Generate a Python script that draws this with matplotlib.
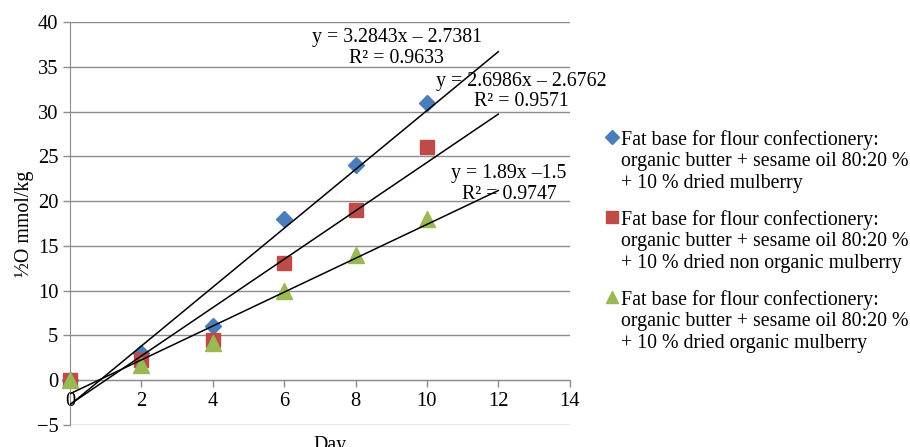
import numpy as np
import matplotlib
matplotlib.use('Agg')
import matplotlib.pyplot as plt
from matplotlib.lines import Line2D

plt.rcParams['font.family'] = ['Liberation Serif', 'DejaVu Serif']

# data
days = [0, 2, 4, 6, 8, 10]
mulberry = [0, 3, 6.1, 18, 24, 31]
non_organic = [0, 2.3, 4.5, 13.1, 19, 26]
organic = [0, 1.7, 4.2, 10, 14, 18]

# trendline equations as printed
slopes = [3.2843, 2.6986, 1.89]
intercepts = [-2.7381, -2.6762, -1.5]
eq_texts = ['y = 3.2843x – 2.7381\nR² = 0.9633',
            'y = 2.6986x – 2.6762\nR² = 0.9571',
            'y = 1.89x –1.5\nR² = 0.9747']
eq_pos = [(9.15, 37.1), (12.65, 32.2), (12.3, 21.9)]

labels = ['Fat base for flour confectionery:\norganic butter + sesame oil 80:20 %\n+ 10 % dried mulberry',
          'Fat base for flour confectionery:\norganic butter + sesame oil 80:20 %\n+ 10 % dried non organic mulberry',
          'Fat base for flour confectionery:\norganic butter + sesame oil 80:20 %\n+ 10 % dried organic mulberry']
colors = ['#4A7EBB', '#BE4B48', '#98B954']
markers = ['D', 's', '^']
sizes = [8, 10, 11]
fs = 14.3

fig = plt.figure(figsize=(9.1, 4.47), dpi=100)
ax = fig.add_axes([0.077, 0.049, 0.549, 0.902])

series = [mulberry, non_organic, organic]
for ys, c, m, s in zip(series, colors, markers, sizes):
    ax.plot(days, ys, linestyle='none', marker=m, markersize=s, color=c,
            zorder=3, clip_on=False)

xt = np.array([0, 12])
for k, b in zip(slopes, intercepts):
    ax.plot(xt, k * xt + b, color='black', lw=1.1, zorder=4)

for (tx, ty), t in zip(eq_pos, eq_texts):
    ax.text(tx, ty, t, ha='center', va='center', multialignment='center',
            fontsize=fs, linespacing=1.1, zorder=5)

ax.set_xlim(0, 14)
ax.set_ylim(-5, 40)
ax.set_xticks(range(0, 15, 2))
ax.set_yticks(range(-5, 41, 5))
ax.yaxis.grid(True, color='#8C8C8C', lw=1)
ax.set_axisbelow(True)
for side in ['top', 'right']:
    ax.spines[side].set_visible(False)
ax.spines['bottom'].set_position(('data', 0))
ax.spines['left'].set_color('#8C8C8C')
ax.spines['bottom'].set_color('#8C8C8C')
ax.tick_params(colors='#8C8C8C', labelcolor='black', labelsize=fs + 0.5, length=5, width=1)
ax.set_xlabel('Day', fontsize=fs)
ax.xaxis.set_label_coords(0.52, -0.028)
ax.xaxis.label.set_va('top')
ax.set_ylabel('½O mmol/kg', fontsize=fs, labelpad=2)

handles = [Line2D([], [], linestyle='none', marker=m, markersize=s * 0.85, color=c)
           for c, m, s in zip(colors, markers, sizes)]
leg = fig.legend(handles, labels, loc='upper left', bbox_to_anchor=(0.654, 0.732),
                 frameon=False, fontsize=fs, handlelength=0.7, handletextpad=0.1,
                 labelspacing=0.83, borderpad=0)
for col in leg._legend_handle_box.get_children():
    for packer in col.get_children():
        packer.align = 'top'

fig.savefig('out.png', dpi=100)
